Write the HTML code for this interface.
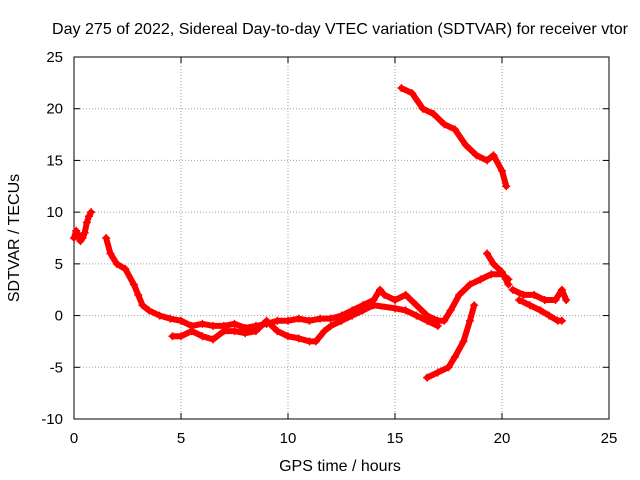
<!DOCTYPE html>
<html><head><meta charset="utf-8"><style>
body{margin:0;background:#fff;}
svg{display:block;font-family:"Liberation Sans",sans-serif;}
</style></head><body>
<svg id="c" width="640" height="480"></svg>
<script>
const xTicks=[0,5,10,15,20,25];
const yTicks=[-10,-5,0,5,10,15,20,25];
const trackA=[[0,7.5],[0.1,8.2],[0.2,7.8],[0.3,7.2],[0.4,7.5],[0.5,8],[0.6,9],[0.7,9.6],[0.8,10]];
const trackB=[[1.5,7.5],[1.7,6],[2,5],[2.4,4.5],[2.8,3],[3,2],[3.2,1],[3.5,0.5],[4,0],[4.5,-0.3],[5,-0.5],[5.5,-1],[6,-0.8],[6.5,-1],[7,-1],[7.5,-0.8],[8,-1.2],[8.5,-1],[9,-0.8],[9.5,-0.5],[10,-0.5],[10.5,-0.3],[11,-0.5],[11.5,-0.3],[12,-0.3],[12.5,0],[13,0.5],[13.5,1],[14,1.5],[14.3,2.5],[14.5,2],[15,1.5],[15.5,2],[16,1],[16.5,0],[17,-0.5],[17.3,-0.5],[17.6,0.5],[18,2],[18.5,3],[19,3.5],[19.5,4],[20,4],[20.3,3.5]];
const trackBLow=[[4.6,-2],[5,-2],[5.5,-1.5],[6,-2],[6.5,-2.3],[7,-1.5],[7.5,-1.5],[8,-1.7],[8.5,-1.5],[9,-0.5],[9.5,-1.5],[10,-2],[10.5,-2.2],[11,-2.5],[11.3,-2.5],[11.7,-1.5],[12,-1],[12.5,-0.5],[13,0],[13.5,0.5],[14,1],[15,0.7],[15.5,0.5],[16,0],[16.5,-0.5],[17,-1]];
const trackC=[[15.3,22],[15.8,21.5],[16.3,20],[16.8,19.5],[17.3,18.5],[17.8,18],[18.3,16.5],[18.8,15.5],[19.3,15],[19.6,15.5],[20,14],[20.2,12.5]];
const trackD=[[16.5,-6],[17,-5.5],[17.5,-5],[17.8,-4],[18.2,-2.5],[18.5,-0.5],[18.7,1]];
const trackE=[[19.3,6],[19.6,5],[20,4.2],[20.3,3]];
const trackF=[[20.5,2.5],[21,2],[21.5,2],[22,1.5],[22.5,1.5],[22.8,2.5],[23,1.5]];
const trackF2=[[20.8,1.5],[21.3,1],[21.8,0.5],[22.2,0],[22.6,-0.5],[22.8,-0.5]];
const tracks=[trackA,trackB,trackBLow,trackC,trackD,trackE,trackF,trackF2];

const L=74,R=609,T=57,B=419;
const X=v=>L+(v-0)/25*(R-L);
const Y=v=>B-(v+10)/35*(B-T);
const svg=document.getElementById('c');
const NS='http://www.w3.org/2000/svg';
function mk(tag,attrs,parent){const e=document.createElementNS(NS,tag);for(const k in attrs)e.setAttribute(k,attrs[k]);(parent||svg).appendChild(e);return e;}

for(const t of xTicks){
 if(t>0&&t<25){const g=mk('line',{x1:X(t),x2:X(t),y1:T,y2:B,stroke:'#a0a0a0','stroke-dasharray':'1,2'});
 
 }
 const tx=mk('text',{x:X(t),y:B+24,'text-anchor':'middle','font-size':15,fill:'#000'});tx.textContent=t;
 
 
 mk('line',{x1:X(t),x2:X(t),y1:B,y2:B-6,stroke:'#000'});
 mk('line',{x1:X(t),x2:X(t),y1:T,y2:T+6,stroke:'#000'});
}
for(const t of yTicks){
 if(t>-10&&t<25){const g=mk('line',{x1:L,x2:R,y1:Y(t),y2:Y(t),stroke:'#a0a0a0','stroke-dasharray':'1,2'});
 
 }
 const tx=mk('text',{x:L-11,y:Y(t)+5,'text-anchor':'end','font-size':15,fill:'#000'});tx.textContent=t;
 
 
 mk('line',{x1:L,x2:L+6,y1:Y(t),y2:Y(t),stroke:'#000'});
 mk('line',{x1:R,x2:R-6,y1:Y(t),y2:Y(t),stroke:'#000'});
}
const fr=mk('rect',{x:L,y:T,width:R-L,height:B-T,fill:'none',stroke:'#000'});



tracks.forEach((tr)=>{
 const pl=mk('polyline',{points:tr.map(p=>X(p[0])+','+Y(p[1])).join(' '),fill:'none',stroke:'#f00','stroke-width':6,'stroke-linejoin':'round','stroke-linecap':'round'});
 
 
 for(const p of tr){
  const px=X(p[0]),py=Y(p[1]);
  const m=mk('path',{d:`M${px-4},${py}H${px+4}M${px},${py-4}V${py+4}`,stroke:'#f00','stroke-width':1.5});
  
  
 }
});

const ti=mk('text',{x:340,y:34,'text-anchor':'middle','font-size':16,fill:'#000',textLength:576,lengthAdjust:'spacingAndGlyphs'});ti.textContent='Day 275 of 2022, Sidereal Day-to-day VTEC variation (SDTVAR) for receiver vtor';


const xt=mk('text',{x:340,y:471,'text-anchor':'middle','font-size':16,fill:'#000'});xt.textContent='GPS time / hours';


const yt=mk('text',{x:0,y:0,'text-anchor':'middle','font-size':16,fill:'#000',transform:'translate(19,238) rotate(-90)'});yt.textContent='SDTVAR / TECUs';


</script>
</body></html>
